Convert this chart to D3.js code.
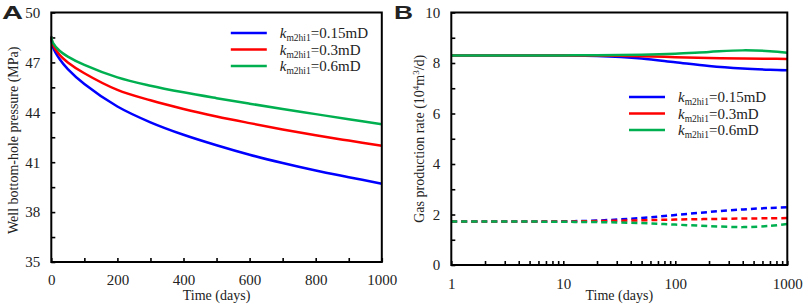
<!DOCTYPE html>
<html>
<head>
<meta charset="utf-8">
<script src="https://cdn.jsdelivr.net/npm/d3@7"></script>
<style>
    body { margin: 0; background: #fff; }
    text { font-family: "Liberation Serif", "Times New Roman", serif; fill: #222; }
</style>
</head>
<body>
<div id="chart-area"></div>
<script>
// panel A data: well bottom-hole pressure vs time
var daysA = [0, 5, 25, 50, 100, 200, 300, 400, 500, 600, 700, 800, 900, 1000];
var pressure015 = [48.55, 47.92, 47.2, 46.6, 45.7, 44.35, 43.4, 42.65, 42.02, 41.45, 40.95, 40.5, 40.1, 39.71];
var pressure03 = [48.55, 48.06, 47.45, 47.0, 46.35, 45.35, 44.72, 44.2, 43.75, 43.35, 42.97, 42.62, 42.3, 41.99];
var pressure06 = [48.55, 48.17, 47.7, 47.35, 46.85, 46.1, 45.6, 45.2, 44.85, 44.52, 44.2, 43.89, 43.58, 43.28];

// panel B data: gas production rate vs time (log)
var daysB = [1, 2, 5, 10, 20, 50, 100, 200, 400, 700, 1000];
var solid015 = [8.3, 8.3, 8.3, 8.3, 8.28, 8.18, 8.03, 7.88, 7.78, 7.73, 7.71];
var solid03 = [8.3, 8.3, 8.3, 8.3, 8.3, 8.27, 8.23, 8.2, 8.18, 8.17, 8.16];
var solid06 = [8.3, 8.3, 8.3, 8.3, 8.31, 8.33, 8.37, 8.44, 8.5, 8.47, 8.41];
var dash015 = [1.72, 1.72, 1.72, 1.73, 1.76, 1.86, 1.98, 2.1, 2.2, 2.26, 2.29];
var dash03 = [1.72, 1.72, 1.72, 1.72, 1.74, 1.77, 1.8, 1.82, 1.84, 1.85, 1.86];
var dash06 = [1.72, 1.72, 1.72, 1.71, 1.70, 1.66, 1.6, 1.54, 1.5, 1.55, 1.62];

var legendNames = ["0.15mD", "0.3mD", "0.6mD"];
var colors = ["#0000ff", "#ff0000", "#00b050"];

var ticksA_y = [35, 36.5, 38, 39.5, 41, 42.5, 44, 45.5, 47, 48.5, 50];
var ticksA_x = [0, 100, 200, 300, 400, 500, 600, 700, 800, 900, 1000];
var ticksB_y = [0, 1, 2, 3, 4, 5, 6, 7, 8, 9, 10];
var ticksB_x = [1, 2, 3, 4, 5, 6, 7, 8, 9, 10, 20, 30, 40, 50, 60, 70, 80, 90,
    100, 200, 300, 400, 500, 600, 700, 800, 900, 1000];

var svg = d3.select("#chart-area").append("svg")
    .attr("width", 803)
    .attr("height", 306);

function styleAxis(g) {
    g.select(".domain").remove();
    g.selectAll(".tick line").attr("stroke", "#000").attr("stroke-width", 1.6);
    g.selectAll(".tick text")
        .style("font-family", "Liberation Serif, serif")
        .style("font-size", "15px")
        .attr("fill", "#222");
}

function frame(g, w, h) {
    g.append("rect")
        .attr("width", w)
        .attr("height", h)
        .attr("fill", "none")
        .attr("stroke", "#000")
        .attr("stroke-width", 2);
}

function legend(g, lx, ly) {
    legendNames.forEach((n, i) => {
        var yy = ly + i * 16.5;
        g.append("line")
            .attr("x1", lx).attr("x2", lx + 36)
            .attr("y1", yy).attr("y2", yy)
            .attr("stroke", colors[i])
            .attr("stroke-width", 2.5);
        var t = g.append("text")
            .attr("x", lx + 49)
            .attr("y", yy + 5)
            .style("font-size", "15px");
        t.append("tspan").style("font-style", "italic").text("k");
        t.append("tspan").attr("dy", 3).style("font-size", "9.5px").text("m2hi1");
        t.append("tspan").attr("dy", -3).text("=" + n);
    });
}

// ---------- Panel A ----------
var wA = 330.5, hA = 249.5;
var gA = svg.append("g").attr("transform", "translate(51.3, 12.5)");

var xA = d3.scaleLinear().domain([0, 1000]).range([0, wA]);
var yA = d3.scaleLinear().domain([35, 50]).range([hA, 0]);

gA.append("g")
    .attr("transform", "translate(0," + hA + ")")
    .call(d3.axisBottom(xA).tickValues(ticksA_x).tickSize(-4).tickPadding(12)
        .tickFormat((d) => d % 200 === 0 ? d : ""))
    .call(styleAxis);

gA.append("g")
    .call(d3.axisLeft(yA).tickValues(ticksA_y).tickSize(-4).tickPadding(11)
        .tickFormat((d) => d % 3 === 2 ? d : ""))
    .call(styleAxis);

var lineA = d3.line()
    .x((d) => xA(d[0]))
    .y((d) => yA(d[1]))
    .curve(d3.curveCatmullRom.alpha(0.5));

[pressure015, pressure03, pressure06].forEach((s, i) => {
    gA.append("path")
        .datum(daysA.map((d, j) => [d, s[j]]))
        .attr("fill", "none")
        .attr("stroke", colors[i])
        .attr("stroke-width", 2.5)
        .attr("d", lineA);
});

frame(gA, wA, hA);
legend(gA, 179.5, 20.5);

gA.append("text")
    .attr("x", wA / 2)
    .attr("y", 287.5)
    .attr("text-anchor", "middle")
    .style("font-size", "14px")
    .text("Time (days)");

gA.append("text")
    .attr("transform", "translate(-33, " + (hA / 2 + 3) + ") rotate(-90)")
    .attr("text-anchor", "middle")
    .style("font-size", "14px")
    .text("Well bottom-hole pressure (MPa)");

svg.append("text")
    .attr("x", 2)
    .attr("y", 18.5)
    .attr("textLength", 21)
    .attr("lengthAdjust", "spacingAndGlyphs")
    .style("font-family", "Liberation Sans, Arial, sans-serif")
    .style("font-weight", "bold")
    .style("font-size", "18px")
    .attr("fill", "#000")
    .text("A");

// ---------- Panel B ----------
var wB = 336, hB = 252.5;
var gB = svg.append("g").attr("transform", "translate(451.3, 12.5)");

var xB = d3.scaleLog().domain([1, 1000]).range([0, wB]);
var yB = d3.scaleLinear().domain([0, 10]).range([hB, 0]);

gB.append("g")
    .attr("transform", "translate(0," + hB + ")")
    .call(d3.axisBottom(xB).tickValues(ticksB_x).tickSize(-4).tickPadding(13)
        .tickFormat((d) => [1, 10, 100, 1000].includes(d) ? d : ""))
    .call(styleAxis);

gB.append("g")
    .call(d3.axisLeft(yB).tickValues(ticksB_y).tickSize(-4).tickPadding(11)
        .tickFormat((d) => d % 2 === 0 ? d : ""))
    .call(styleAxis);

var lineB = d3.line()
    .x((d) => xB(d[0]))
    .y((d) => yB(d[1]))
    .curve(d3.curveCatmullRom.alpha(0.5));

[solid015, solid03, solid06].forEach((s, i) => {
    gB.append("path")
        .datum(daysB.map((d, j) => [d, s[j]]))
        .attr("fill", "none")
        .attr("stroke", colors[i])
        .attr("stroke-width", 2.5)
        .attr("d", lineB);
});

[dash015, dash03, dash06].forEach((s, i) => {
    gB.append("path")
        .datum(daysB.map((d, j) => [d, s[j]]))
        .attr("fill", "none")
        .attr("stroke", colors[i])
        .attr("stroke-width", 2.5)
        .attr("stroke-dasharray", "6,4")
        .attr("d", lineB);
});

frame(gB, wB, hB);
legend(gB, 177.7, 84.5);

gB.append("text")
    .attr("x", wB / 2)
    .attr("y", 287.5)
    .attr("text-anchor", "middle")
    .style("font-size", "14px")
    .text("Time (days)");

var yLabelB = gB.append("text")
    .attr("transform", "translate(-27, " + (hB / 2) + ") rotate(-90)")
    .attr("text-anchor", "middle")
    .style("font-size", "14px");
yLabelB.append("tspan").text("Gas production rate (10");
yLabelB.append("tspan").attr("dy", -5).style("font-size", "9px").text("4");
yLabelB.append("tspan").attr("dy", 5).text("m");
yLabelB.append("tspan").attr("dy", -5).style("font-size", "9px").text("3");
yLabelB.append("tspan").attr("dy", 5).text("/d)");

svg.append("text")
    .attr("x", 394)
    .attr("y", 18.5)
    .attr("textLength", 19)
    .attr("lengthAdjust", "spacingAndGlyphs")
    .style("font-family", "Liberation Sans, Arial, sans-serif")
    .style("font-weight", "bold")
    .style("font-size", "18px")
    .attr("fill", "#000")
    .text("B");
</script>
</body>
</html>
